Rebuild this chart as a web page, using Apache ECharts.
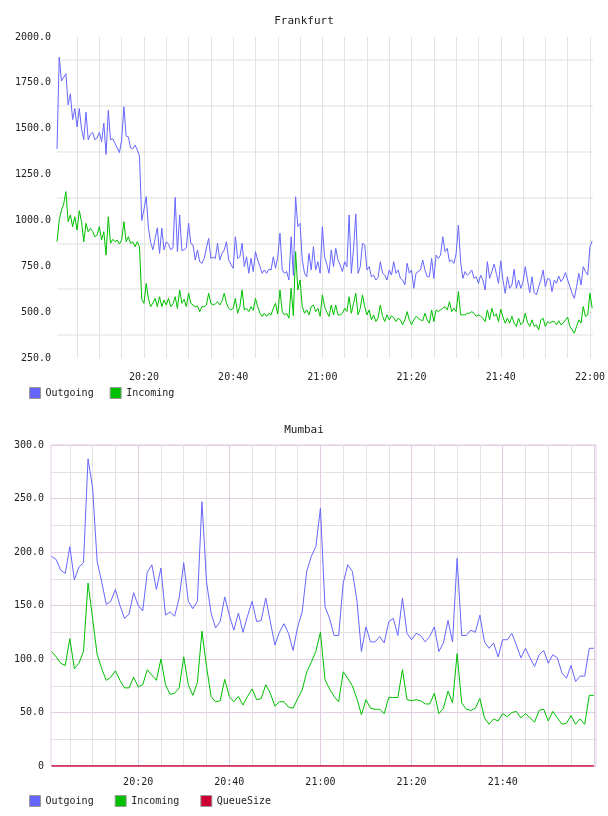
<!DOCTYPE html>
<html>
<head>
<meta charset="utf-8">
<title>Frankfurt / Mumbai</title>
<script src="https://cdn.jsdelivr.net/npm/echarts@6/dist/echarts.min.js"></script>
<style>
  html, body { margin: 0; padding: 0; background: #fff; }
  #chart { width: 608px; height: 816px; }
</style>
</head>
<body>
<div id="chart"></div>
<script>
// 时间用 20:00 之后的分钟数表示
// Frankfurt: 每 30 秒一个点, 从 20:00:30 开始
const frankfurtStart = 0.5
const frankfurtStep = 0.5
const frankfurtOutgoing = [
  1390, 1890, 1760, 1780, 1800, 1630, 1690, 1550, 1610, 1510, 1610, 1500, 1440, 1590, 1440, 1470, 1480, 1440, 1450, 1480,
  1430, 1530, 1360, 1600, 1440, 1445, 1420, 1395, 1370, 1440, 1620, 1460, 1455, 1395, 1390, 1410, 1385, 1350,
  1000, 1060, 1130, 960, 880, 840, 900, 960, 820, 957, 839, 884, 870, 840, 850, 1125, 830, 1030, 835, 840, 850, 985, 875, 866,
  784, 839, 775, 766, 793, 850, 902, 793, 800, 793, 875, 784, 820, 839, 884, 784, 760, 739, 911, 793,
  802, 875, 748, 802, 712, 793, 721, 830, 784, 750, 712, 730, 712, 734, 730, 802, 739, 800, 930, 730,
  712, 721, 675, 911, 700, 1129, 966, 984, 784, 712, 693, 820, 730, 857, 730, 775, 712, 966, 802, 760, 712,
  839, 748, 848, 784, 757, 721, 775, 748, 1030, 712, 850, 1035, 712, 748, 875, 866, 730, 748, 693, 702,
  675, 690, 775, 712, 702, 675, 730, 702, 775, 712, 730, 684, 675, 648, 766, 712, 730, 630, 712, 721,
  730, 784, 730, 693, 693, 793, 684, 811, 793, 811, 911, 830, 848, 775, 784, 766, 820, 975, 775, 684,
  721, 702, 712, 730, 684, 693, 657, 702, 675, 621, 775, 684, 721, 762, 712, 657, 780, 675, 603, 693,
  630, 648, 734, 630, 675, 630, 666, 748, 675, 607, 693, 607, 594, 639, 675, 730, 639, 684, 679, 612,
  675, 657, 697, 666, 684, 716, 675, 639, 603, 575, 639, 712, 648, 748, 721, 702, 857, 888
]
const frankfurtIncoming = [
  884, 1000, 1057, 1090, 1157, 993, 1030, 966, 1020, 948, 1053, 993, 884, 984, 939, 957, 939, 911, 920, 966,
  893, 939, 811, 1020, 875, 897, 884, 893, 871, 893, 993, 884, 911, 875, 884, 857, 884, 857,
  570, 548, 657, 575, 530, 550, 575, 530, 584, 530, 566, 539, 575, 530, 545, 584, 521, 621, 548, 570, 530, 603, 548, 539,
  530, 534, 502, 530, 530, 539, 603, 548, 539, 545, 557, 539, 560, 603, 548, 521, 512, 520, 575, 494,
  530, 621, 512, 521, 503, 530, 510, 575, 530, 494, 477, 494, 477, 494, 485, 521, 548, 490, 621, 503,
  485, 494, 467, 630, 480, 830, 621, 675, 530, 494, 512, 485, 530, 539, 503, 521, 477, 594, 530, 500, 477,
  539, 485, 539, 485, 485, 494, 521, 503, 584, 494, 548, 603, 485, 521, 594, 530, 485, 512, 458, 485,
  449, 470, 539, 477, 449, 485, 458, 480, 470, 449, 467, 458, 431, 458, 503, 458, 431, 458, 477, 467,
  458, 453, 494, 458, 440, 512, 449, 512, 503, 512, 521, 530, 512, 557, 503, 521, 503, 612, 485, 485,
  485, 494, 494, 503, 494, 477, 485, 477, 467, 449, 512, 458, 521, 477, 491, 449, 516, 473, 440, 467,
  440, 477, 440, 422, 467, 431, 444, 494, 444, 422, 458, 422, 431, 404, 458, 467, 422, 449, 440, 449,
  449, 431, 453, 431, 440, 458, 473, 422, 404, 385, 422, 458, 440, 530, 477, 485, 603, 521
]

// Mumbai: 每分钟一个点, 从 20:01 开始
const mumbaiStart = 1
const mumbaiStep = 1
const mumbaiOutgoing = [
  196, 193, 183, 180, 205, 174, 186, 190, 287, 260, 191, 172, 151, 154, 165, 150, 138, 142, 162, 150,
  145, 181, 188, 165, 185, 141, 144, 140, 157, 190, 154, 147, 154, 247, 172, 143, 129, 135, 158, 141,
  127, 143, 125, 140, 154, 135, 136, 157, 135, 113, 125, 133, 124, 108, 130, 144, 182, 196, 205, 241,
  149, 138, 122, 122, 171, 188, 182, 155, 107, 130, 116, 116, 121, 115, 135, 138, 122, 157, 124, 118,
  124, 122, 116, 121, 130, 107, 115, 136, 116, 194, 122, 122, 127, 125, 141, 116, 110, 115, 102, 118,
  118, 124, 113, 101, 110, 101, 93, 104, 108, 96, 104, 101, 87, 82, 94, 79, 84, 84, 110, 110
]
const mumbaiIncoming = [
  107, 102, 96, 94, 119, 91, 96, 107, 171, 138, 104, 91, 80, 83, 89, 80, 73, 73, 83, 74,
  76, 90, 85, 80, 100, 76, 67, 68, 73, 102, 76, 66, 78, 126, 93, 65, 60, 61, 81, 65,
  60, 65, 57, 65, 72, 62, 63, 76, 68, 56, 60, 60, 55, 54, 63, 71, 88, 97, 107, 125,
  81, 72, 65, 60, 88, 82, 75, 63, 48, 62, 54, 53, 53, 49, 64, 64, 64, 90, 62, 61,
  62, 61, 58, 58, 68, 49, 54, 70, 59, 105, 59, 53, 52, 54, 63, 45, 39, 44, 42, 49,
  46, 50, 51, 45, 49, 45, 41, 52, 53, 42, 51, 45, 39, 40, 47, 39, 44, 39, 66, 66
]
const mumbaiQueueSize = [
  0, 0, 0, 0, 0, 0, 0, 0, 0, 0, 0, 0, 0, 0, 0, 0, 0, 0, 0, 0,
  0, 0, 0, 0, 0, 0, 0, 0, 0, 0, 0, 0, 0, 0, 0, 0, 0, 0, 0, 0,
  0, 0, 0, 0, 0, 0, 0, 0, 0, 0, 0, 0, 0, 0, 0, 0, 0, 0, 0, 0,
  0, 0, 0, 0, 0, 0, 0, 0, 0, 0, 0, 0, 0, 0, 0, 0, 0, 0, 0, 0,
  0, 0, 0, 0, 0, 0, 0, 0, 0, 0, 0, 0, 0, 0, 0, 0, 0, 0, 0, 0,
  0, 0, 0, 0, 0, 0, 0, 0, 0, 0, 0, 0, 0, 0, 0, 0, 0, 0, 0, 0
]

// 刻度标签
const frankfurtTimeLabels = ['20:20', '20:40', '21:00', '21:20', '21:40', '22:00']
const mumbaiTimeLabels = ['20:20', '20:40', '21:00', '21:20', '21:40']

const font = '"DejaVu Sans Mono", monospace'
const textColor = '#222'
const colors = { Outgoing: '#6666ff', Incoming: '#00c000', QueueSize: '#cc0033' }
const pink = '#e2cce2'
const gray = '#e2e2e2'

function minuteToClock (v) {
  const h = 20 + Math.floor(v / 60)
  const m = Math.round(v % 60)
  return h + ':' + (m < 10 ? '0' + m : m)
}

function toPoints (values, start, step) {
  return values.map((v, i) => [start + i * step, v])
}

function timeAxis (gridIndex, min, max, labels, lineColors, margin) {
  return {
    type: 'value',
    gridIndex: gridIndex,
    min: min,
    max: max,
    splitNumber: 24,
    minInterval: 5,
    maxInterval: 5,
    axisLine: { show: false },
    axisTick: { show: false },
    axisLabel: {
      margin: margin,
      fontFamily: font,
      fontSize: 10,
      color: textColor,
      formatter: v => {
        if (v % 5 !== 0) return ''
        const s = minuteToClock(v)
        return labels.includes(s) ? s : ''
      }
    },
    splitLine: {
      show: true,
      showMinLine: false,
      showMaxLine: false,
      lineStyle: { color: lineColors, width: 1 }
    }
  }
}

function lineSeries (name, values, start, step, xi, yi, width) {
  return {
    name: name,
    type: 'line',
    xAxisIndex: xi,
    yAxisIndex: yi,
    data: toPoints(values, start, step),
    showSymbol: false,
    symbol: 'none',
    lineStyle: { color: colors[name], width: width || 1 },
    itemStyle: { color: colors[name] }
  }
}

const legendBase = {
  left: 24,
  icon: 'rect',
  itemWidth: 11,
  itemHeight: 11,
  itemStyle: { borderColor: '#999', borderWidth: 1 },
  textStyle: { fontFamily: font, fontSize: 10, color: textColor }
}

const chartInstance = echarts.init(document.getElementById('chart'))
const option = {
  animation: false,
  backgroundColor: '#fff',
  title: [
    { text: 'Frankfurt', left: 'center', top: 11, textStyle: { fontFamily: font, fontSize: 11, fontWeight: 'normal', color: textColor } },
    { text: 'Mumbai', left: 'center', top: 420, textStyle: { fontFamily: font, fontSize: 11, fontWeight: 'normal', color: textColor } }
  ],
  legend: [
    Object.assign({}, legendBase, { top: 382, itemGap: 16, data: ['Outgoing', 'Incoming'] }),
    Object.assign({}, legendBase, { top: 790, itemGap: 21, data: ['Outgoing', 'Incoming', 'QueueSize'] })
  ],
  grid: [
    { left: 57, top: 37, width: 536, height: 321 },
    { left: 51, top: 445, width: 545, height: 321, show: true, borderColor: pink, borderWidth: 1 }
  ],
  xAxis: [
    timeAxis(0, 0.5, 120.67, frankfurtTimeLabels, [gray], 14),
    timeAxis(1, 0.87, 120.48, mumbaiTimeLabels, [gray, gray, gray, pink], 11)
  ],
  yAxis: [
    { // Frankfurt 刻度标签
      type: 'value', gridIndex: 0, min: 250, max: 2000, interval: 250,
      axisLine: { show: false }, axisTick: { show: false }, splitLine: { show: false },
      axisLabel: { margin: 6, fontFamily: font, fontSize: 10, color: textColor, formatter: v => v.toFixed(1) }
    },
    { // Frankfurt 横向网格线 (落在两个刻度中间)
      type: 'value', gridIndex: 0, min: 250, max: 2000, interval: 125,
      axisLine: { show: false }, axisTick: { show: false }, axisLabel: { show: false },
      splitLine: { lineStyle: { color: ['rgba(0,0,0,0)', '#efefef'], width: 2 } }
    },
    { // Mumbai
      type: 'value', gridIndex: 1, min: 0, max: 300, interval: 25,
      axisLine: { show: false }, axisTick: { show: false },
      axisLabel: {
        margin: 7, fontFamily: font, fontSize: 10, color: textColor,
        formatter: v => v % 50 !== 0 ? '' : (v === 0 ? '0' : v.toFixed(1))
      },
      splitLine: { lineStyle: { color: [pink, gray], width: 1 } }
    }
  ],
  series: [
    lineSeries('Outgoing', frankfurtOutgoing, frankfurtStart, frankfurtStep, 0, 0),
    lineSeries('Incoming', frankfurtIncoming, frankfurtStart, frankfurtStep, 0, 0),
    lineSeries('Outgoing', mumbaiOutgoing, mumbaiStart, mumbaiStep, 1, 2),
    lineSeries('Incoming', mumbaiIncoming, mumbaiStart, mumbaiStep, 1, 2),
    lineSeries('QueueSize', mumbaiQueueSize, mumbaiStart, mumbaiStep, 1, 2, 1.5)
  ]
}
chartInstance.setOption(option)
</script>
</body>
</html>
